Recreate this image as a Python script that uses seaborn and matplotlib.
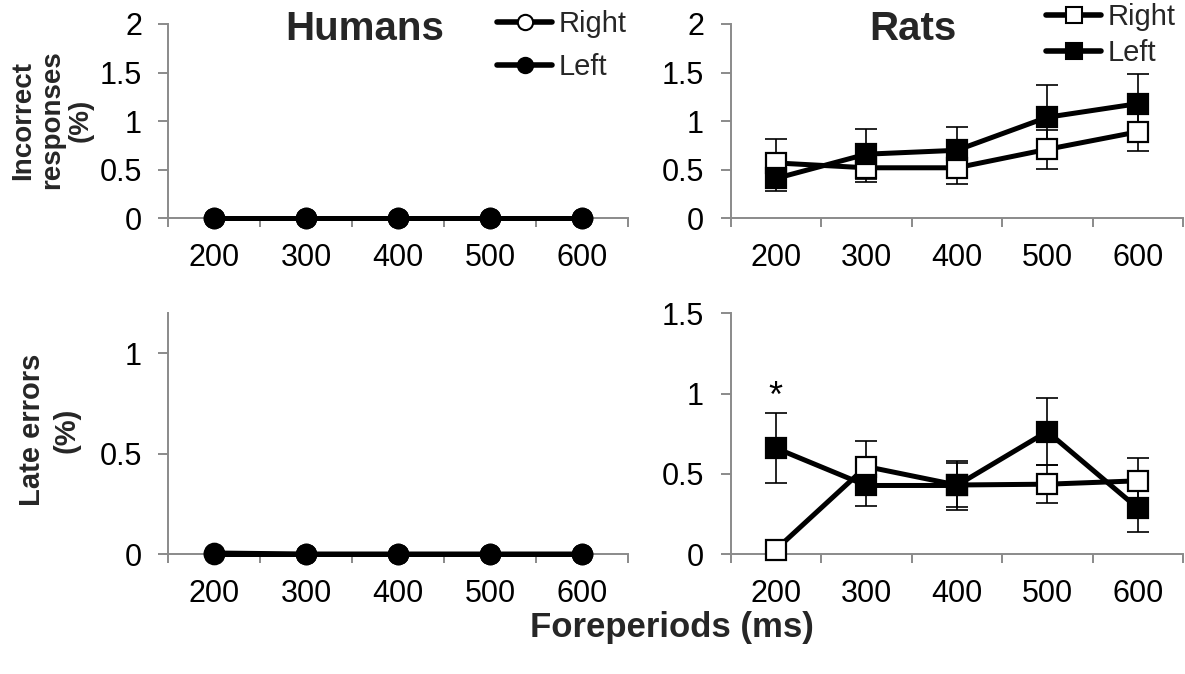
import numpy as np
import pandas as pd
import matplotlib
matplotlib.use("Agg")
import matplotlib.pyplot as plt
from matplotlib.lines import Line2D
import seaborn as sns

# ---- data -------------------------------------------------------------
foreperiods = ["200", "300", "400", "500", "600"]

# Humans (percent)
human_incorrect_right = [0.0, 0.0, 0.0, 0.0, 0.0]
human_incorrect_left = [0.0, 0.0, 0.0, 0.0, 0.0]
human_late_right = [0.0, 0.0, 0.0, 0.0, 0.0]
human_late_left = [0.005, 0.0, 0.0, 0.0, 0.0]

# Rats (percent, mean and SEM)
rat_incorrect_right = [0.57, 0.52, 0.52, 0.71, 0.89]
rat_incorrect_right_sem = [0.25, 0.15, 0.17, 0.20, 0.20]
rat_incorrect_left = [0.41, 0.66, 0.70, 1.04, 1.18]
rat_incorrect_left_sem = [0.13, 0.26, 0.24, 0.33, 0.31]

rat_late_right = [0.027, 0.545, 0.43, 0.435, 0.456]
rat_late_right_sem = [0.0, 0.16, 0.14, 0.12, 0.145]
rat_late_left = [0.66, 0.427, 0.427, 0.763, 0.286]
rat_late_left_sem = [0.22, 0.125, 0.15, 0.21, 0.15]

yticks_top = [0, 0.5, 1, 1.5, 2]
yticklabels_top = ["0", "0.5", "1", "1.5", "2"]
yticks_bl = [0, 0.5, 1]
yticklabels_bl = ["0", "0.5", "1"]
yticks_br = [0, 0.5, 1, 1.5]
yticklabels_br = ["0", "0.5", "1", "1.5"]

# ---- style ------------------------------------------------------------
sns.set_theme(style="white")
plt.rcParams["font.family"] = ["Liberation Sans", "DejaVu Sans"]

AXIS_GREY = "#8a8a8a"
LW = 3.6
TICK_FS = 22
W, H = 1185, 674

fig = plt.figure(figsize=(W / 100, H / 100), dpi=100)


def px_axes(x0, y0, x1, y1):
    return fig.add_axes([x0 / W, 1 - y1 / H, (x1 - x0) / W, (y1 - y0) / H])


ax_hi = px_axes(168.3, 24, 628.3, 218.3)
ax_ri = px_axes(730.5, 24, 1183, 218.3)
ax_hl = px_axes(168.3, 313.3, 628.3, 554)
ax_rl = px_axes(730.5, 313.3, 1183, 554)

pos = np.arange(len(foreperiods))


def style_axes(ax, ymax, yticks, yticklabels):
    ax.set_xlim(-0.5, len(foreperiods) - 0.5)
    ax.set_ylim(0, ymax)
    for s in ("top", "right"):
        ax.spines[s].set_visible(False)
    for s in ("left", "bottom"):
        ax.spines[s].set_color(AXIS_GREY)
        ax.spines[s].set_linewidth(1.4)
    # category boundaries as major ticks, labels on minor ticks
    ax.set_xticks(np.arange(-0.5, len(foreperiods), 1.0))
    ax.set_xticklabels([])
    ax.set_xticks(pos, minor=True)
    ax.set_xticklabels(foreperiods, minor=True)
    ax.tick_params(axis="x", which="major", direction="out", length=6.5,
                   width=1.4, color=AXIS_GREY, bottom=True)
    ax.tick_params(axis="x", which="minor", length=0, pad=18,
                   labelsize=TICK_FS, labelcolor="black", bottom=True)
    ax.set_yticks(yticks)
    ax.set_yticklabels(yticklabels)
    ax.tick_params(axis="y", direction="out", length=7, width=1.4,
                   color=AXIS_GREY, pad=12, labelsize=TICK_FS,
                   labelcolor="black", left=True)
    ax.set_xlabel("")
    ax.set_ylabel("")
    ax.grid(False)


def draw_series(ax, values, marker, filled, z, sem=None, ms=14):
    if sem is not None:
        ax.errorbar(pos, values, yerr=sem, fmt="none", ecolor="black",
                    elinewidth=1.2, capsize=8, capthick=1.2, zorder=2,
                    clip_on=False)
    sns.lineplot(x=pos, y=values, ax=ax, color="black", linewidth=LW,
                 marker=marker, markersize=ms, markeredgewidth=1.6,
                 markeredgecolor="black",
                 markerfacecolor="black" if filled else "white",
                 zorder=z, clip_on=False, legend=False, errorbar=None)


# Humans: incorrect responses
draw_series(ax_hi, human_incorrect_right, "o", False, 3, ms=14)
draw_series(ax_hi, human_incorrect_left, "o", True, 4, ms=14)
style_axes(ax_hi, 2, yticks_top, yticklabels_top)

# Rats: incorrect responses
draw_series(ax_ri, rat_incorrect_right, "s", False, 3, rat_incorrect_right_sem)
draw_series(ax_ri, rat_incorrect_left, "s", True, 4, rat_incorrect_left_sem)
style_axes(ax_ri, 2, yticks_top, yticklabels_top)

# Humans: late errors
draw_series(ax_hl, human_late_right, "o", False, 3, ms=14)
draw_series(ax_hl, human_late_left, "o", True, 4, ms=14)
style_axes(ax_hl, 1.2, yticks_bl, yticklabels_bl)

# Rats: late errors
draw_series(ax_rl, rat_late_right, "s", False, 3, rat_late_right_sem)
draw_series(ax_rl, rat_late_left, "s", True, 4, rat_late_left_sem)
style_axes(ax_rl, 1.5, yticks_br, yticklabels_br)

# significance marker above the 200 ms point
ax_rl.text(0, 0.975, "*", ha="center", va="center", fontsize=26,
           color="black")

# ---- legends ----------------------------------------------------------
LEG_FS = 21


def legend_handles(marker):
    return [
        Line2D([], [], color="black", lw=LW + 0.4, marker=marker,
               markersize=11, markeredgewidth=1.5, markeredgecolor="black",
               markerfacecolor="white"),
        Line2D([], [], color="black", lw=LW + 0.4, marker=marker,
               markersize=11, markeredgewidth=1.5, markeredgecolor="black",
               markerfacecolor="black"),
    ]


fig.legend(legend_handles("o"), ["Right", "Left"], loc="upper left",
           bbox_to_anchor=(497 / W, 1 - 10 / H), frameon=False,
           fontsize=LEG_FS, handlelength=1.9, handletextpad=0.2,
           labelspacing=0.52, borderpad=0, borderaxespad=0)
fig.legend(legend_handles("s"), ["Right", "Left"], loc="upper left",
           bbox_to_anchor=(1046 / W, 1 - 3 / H), frameon=False,
           fontsize=LEG_FS, handlelength=1.9, handletextpad=0.2,
           labelspacing=0.27, borderpad=0, borderaxespad=0)

# ---- titles and axis labels --------------------------------------------
fig.text(365 / W, 1 - 29 / H, "Humans", ha="center", va="center",
         fontsize=29, fontweight="bold")
fig.text(913 / W, 1 - 29 / H, "Rats", ha="center", va="center",
         fontsize=29, fontweight="bold")
fig.text(52 / W, 1 - 120 / H, "Incorrect\nresponses\n(%)", rotation=90,
         ha="center", va="center", multialignment="center", fontsize=20,
         fontweight="bold", linespacing=1.15)
fig.text(49 / W, 1 - 430 / H, "Late errors\n(%)", rotation=90,
         ha="center", va="center", multialignment="center", fontsize=21,
         fontweight="bold", linespacing=1.3)
fig.text(672 / W, 1 - 628 / H, "Foreperiods (ms)", ha="center",
         va="center", fontsize=25, fontweight="bold")

fig.savefig("out.png", dpi=100, facecolor="white")
